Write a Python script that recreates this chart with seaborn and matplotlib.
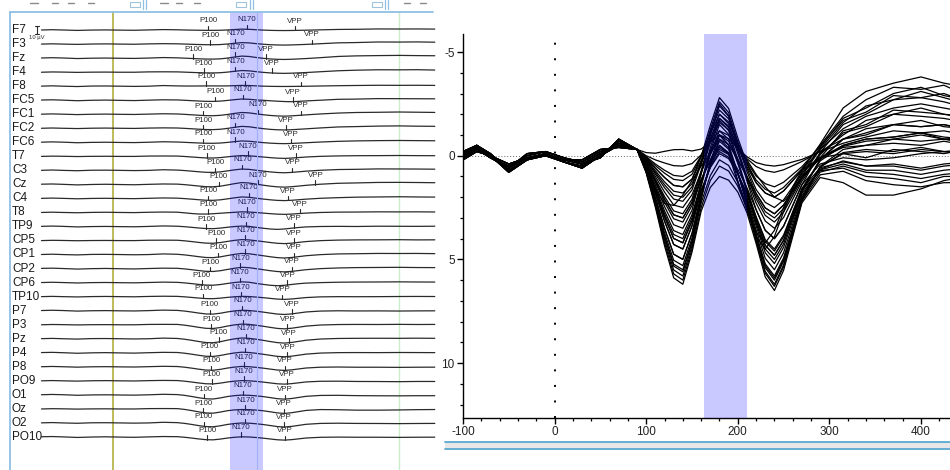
import numpy as np
import pandas as pd
import matplotlib
matplotlib.use("Agg")
import matplotlib.pyplot as plt
import seaborn as sns
from matplotlib.lines import Line2D
from matplotlib.patches import Rectangle
from matplotlib.ticker import MultipleLocator

sns.set_theme(style="white", context="paper")
plt.rcParams['font.family'] = ['Liberation Sans', 'DejaVu Sans']
plt.rcParams['axes.unicode_minus'] = False

# ---------------- data ----------------
times = [-100, -85, -70, -50, -30, -10, 10, 30, 50, 70,
         90, 100, 110, 120, 130, 140, 150, 160, 170, 180, 190, 200, 210, 220,
         230, 240, 250, 260, 270, 290, 315, 340, 370, 400, 425, 450]

channels = ["F7", "F3", "Fz", "F4", "F8", "FC5", "FC1", "FC2", "FC6", "T7",
            "C3", "Cz", "C4", "T8", "TP9", "CP5", "CP1", "CP2", "CP6", "TP10",
            "P7", "P3", "Pz", "P4", "P8", "PO9", "O1", "Oz", "O2", "PO10"]

# amplitudes in microvolts (positive plotted downward)
F7 = [0.0, -0.4, 0.0, 0.6, 0.1, -0.1, 0.2, 0.4, -0.1, -0.6,
      -0.3, 0.0, 0.2, 0.35, 0.48, 0.5, 0.38, -0.04, -0.65, -1.2, -0.98, -0.38, 0.14, 0.52,
      0.72, 0.8, 0.68, 0.48, 0.28, -0.22, -0.8, -1.0, -1.5, -1.4, -1.5, -1.3]
F3 = [0.1, -0.3, 0.1, 0.5, 0.0, -0.2, 0.1, 0.3, -0.2, -0.5,
      -0.3, 0.05, 0.4, 0.7, 0.95, 1.0, 0.75, 0.0, -1.05, -2.0, -1.63, -0.6, 0.3, 0.98,
      1.35, 1.5, 1.28, 0.9, 0.53, -0.45, -1.7, -2.1, -2.9, -2.8, -3.0, -2.6]
Fz = [-0.1, -0.5, -0.1, 0.7, 0.2, 0.0, 0.3, 0.5, 0.0, -0.7,
      -0.3, 0.13, 0.6, 1.05, 1.43, 1.5, 1.13, 0.04, -1.46, -2.8, -2.28, -0.86, 0.38, 1.3,
      1.8, 2.0, 1.7, 1.2, 0.7, -0.56, -2.3, -3.1, -3.5, -3.8, -3.5, -3.3]
F4 = [0.2, -0.2, 0.0, 0.4, 0.1, 0.0, 0.2, 0.2, -0.3, -0.4,
      -0.3, 0.08, 0.48, 0.84, 1.14, 1.2, 0.9, 0.04, -1.14, -2.2, -1.78, -0.63, 0.39, 1.17,
      1.62, 1.8, 1.53, 1.08, 0.63, -0.5, -1.9, -2.7, -3.3, -3.2, -3.4, -2.9]
F8 = [0.0, -0.4, 0.1, 0.6, -0.1, -0.2, 0.1, 0.4, 0.1, -0.8,
      -0.3, -0.15, -0.12, -0.21, -0.29, -0.3, -0.23, -0.32, -0.65, -1.0, -0.82, -0.35, 0.05, 0.33,
      0.45, 0.5, 0.43, 0.3, 0.18, -0.19, -0.6, -0.9, -1.2, -1.1, -1.2, -1.0]
FC5 = [-0.2, -0.5, 0.0, 0.8, 0.2, -0.1, 0.3, 0.6, 0.0, -0.5,
       -0.3, 0.17, 0.72, 1.26, 1.71, 1.8, 1.35, 0.4, -0.69, -1.6, -1.25, -0.28, 0.2, 0.9,
       1.5, 2.0, 2.2, 1.7, 1.1, 0.1, -1.2, -1.5, -2.2, -2.1, -2.0, -1.9]
FC1 = [0.0, -0.4, 0.0, 0.6, 0.1, -0.1, 0.2, 0.4, -0.1, -0.6,
       -0.3, 0.23, 0.88, 1.54, 2.09, 2.2, 1.65, 0.4, -1.11, -2.4, -1.9, -0.52, 0.76, 1.82,
       2.52, 2.8, 2.38, 1.68, 0.98, -0.32, -1.6, -2.4, -2.7, -3.1, -2.8, -2.5]
FC2 = [0.1, -0.3, 0.1, 0.5, 0.0, -0.2, 0.1, 0.3, -0.2, -0.5,
       -0.3, 0.2, 0.8, 1.4, 1.9, 2.0, 1.5, 0.28, -1.26, -2.6, -2.08, -0.67, 0.61, 1.63,
       2.25, 2.5, 2.13, 1.5, 0.88, -0.39, -1.8, -2.3, -3.0, -3.3, -2.9, -2.7]
FC6 = [-0.1, -0.5, -0.1, 0.7, 0.2, 0.0, 0.3, 0.5, 0.0, -0.7,
       -0.3, 0.13, 0.6, 1.05, 1.43, 1.5, 1.13, 0.24, -0.85, -1.8, -1.43, -0.41, 0.53, 1.3,
       1.8, 2.0, 1.7, 1.2, 0.7, -0.3, -1.3, -1.9, -2.3, -2.5, -2.3, -2.1]
T7 = [0.2, -0.2, 0.0, 0.4, 0.1, 0.0, 0.2, 0.2, -0.3, -0.4,
      -0.3, 0.28, 1.0, 1.75, 2.38, 2.5, 1.88, 0.8, -0.22, -1.0, -0.7, 0.15, 1.05, 1.95,
      2.7, 3.0, 2.55, 1.8, 1.05, 0.1, -0.5, -0.8, -0.9, -1.1, -0.9, -0.8]
C3 = [0.0, -0.4, 0.1, 0.6, -0.1, -0.2, 0.1, 0.4, 0.1, -0.8,
      -0.3, 0.35, 1.2, 2.1, 2.85, 3.0, 2.25, 0.84, -0.63, -1.8, -1.35, -0.11, 1.13, 2.28,
      3.15, 3.5, 2.98, 2.1, 1.23, -0.05, -1.1, -1.4, -2.0, -1.9, -1.8, -1.6]
Cz = [-0.2, -0.5, 0.0, 0.8, 0.2, -0.1, 0.3, 0.6, 0.0, -0.5,
      -0.3, 0.43, 1.4, 2.45, 3.33, 3.5, 2.63, 0.9, -0.97, -2.5, -1.93, -0.33, 1.22, 2.6,
      3.6, 4.0, 3.4, 2.4, 1.4, -0.16, -1.5, -2.0, -2.7, -2.8, -2.6, -2.3]
C4 = [0.0, -0.4, 0.0, 0.6, 0.1, -0.1, 0.2, 0.4, -0.1, -0.6,
      -0.3, 0.32, 1.12, 1.96, 2.66, 2.8, 2.1, 0.72, -0.78, -2.0, -1.54, -0.26, 0.98, 2.08,
      2.88, 3.2, 2.72, 1.92, 1.12, -0.12, -1.0, -1.7, -2.0, -2.3, -2.0, -1.8]
T8 = [0.1, -0.3, 0.1, 0.5, 0.0, -0.2, 0.1, 0.3, -0.2, -0.5,
      -0.3, 0.6, 1.6, 2.3, 2.4, 1.9, 1.2, 0.5, -0.12, -0.8, -0.54, 0.2, 1.0, 1.82,
      2.52, 2.8, 2.38, 1.68, 0.98, 0.12, -0.4, -0.5, -0.8, -0.7, -0.8, -0.6]
TP9 = [-0.1, -0.5, -0.1, 0.7, 0.2, 0.0, 0.3, 0.5, 0.0, -0.7,
       -0.3, 0.38, 1.28, 2.24, 3.04, 3.2, 2.4, 1.18, 0.18, -0.5, -0.1, 1.3, 2.6, 3.7,
       4.2, 3.6, 2.5, 1.5, 0.7, 0.1, -0.1, 0.1, -0.3, -0.2, -0.1, -0.3]
CP5 = [0.2, -0.2, 0.0, 0.4, 0.1, 0.0, 0.2, 0.2, -0.3, -0.4,
       -0.3, 0.5, 1.6, 2.8, 3.8, 4.0, 3.0, 1.36, -0.12, -1.2, -0.79, 0.36, 1.62, 2.93,
       4.05, 4.5, 3.83, 2.7, 1.58, 0.25, -0.5, -0.8, -0.9, -1.1, -0.8, -0.9]
CP1 = [0.0, -0.4, 0.1, 0.6, -0.1, -0.2, 0.1, 0.4, 0.1, -0.8,
       -0.3, 0.58, 1.8, 3.15, 4.28, 4.5, 3.38, 1.5, -0.22, -1.5, -1.03, 0.32, 1.77, 3.25,
       4.5, 5.0, 4.25, 3.0, 1.75, 0.2, -0.8, -1.1, -1.5, -1.4, -1.5, -1.2]
CP2 = [-0.2, -0.5, 0.0, 0.8, 0.2, -0.1, 0.3, 0.6, 0.0, -0.5,
       -0.3, 0.53, 1.68, 2.94, 3.99, 4.2, 3.15, 1.34, -0.39, -1.7, -1.21, 0.19, 1.66, 3.12,
       4.32, 4.8, 4.08, 2.88, 1.68, 0.16, -0.8, -1.3, -1.5, -1.7, -1.4, -1.3]
CP6 = [0.0, -0.4, 0.0, 0.6, 0.1, -0.1, 0.2, 0.4, -0.1, -0.6,
       -0.3, 0.47, 1.52, 2.66, 3.61, 3.8, 2.85, 1.32, -0.03, -1.0, -0.5, 1.2, 2.6, 3.9,
       4.5, 3.9, 2.7, 1.6, 0.8, 0.1, -0.45, -0.7, -0.8, -1.0, -0.8, -0.7]
TP10 = [0.1, -0.3, 0.1, 0.5, 0.0, -0.2, 0.1, 0.3, -0.2, -0.5,
        -0.3, 0.35, 1.2, 2.1, 2.85, 3.0, 2.25, 1.14, 0.27, -0.3, -0.06, 0.66, 1.55, 2.6,
        3.6, 4.0, 3.4, 2.4, 1.4, 0.4, 0.1, 0.2, 0.1, -0.1, -0.2, -0.1]
P7 = [-0.1, -0.5, -0.1, 0.7, 0.2, 0.0, 0.3, 0.5, 0.0, -0.7,
      -0.3, 0.65, 2.0, 3.5, 4.75, 5.0, 3.75, 1.9, 0.45, -0.5, -0.15, 0.87, 2.12, 3.58,
      4.95, 5.5, 4.68, 3.3, 1.93, 0.65, 0.25, 0.5, 0.4, 0.6, 0.4, 0.3]
P3 = [0.2, -0.2, 0.0, 0.4, 0.1, 0.0, 0.2, 0.2, -0.3, -0.4,
      -0.3, 0.73, 2.2, 3.85, 5.23, 5.5, 4.13, 2.04, 0.35, -0.8, -0.38, 0.84, 2.28, 3.9,
      5.4, 6.0, 5.1, 3.6, 2.1, 0.54, -0.15, -0.3, -0.2, -0.4, -0.2, -0.3]
Pz = [0.0, -0.4, 0.1, 0.6, -0.1, -0.2, 0.1, 0.4, 0.1, -0.8,
      -0.3, 0.77, 2.32, 4.06, 5.51, 5.8, 4.35, 2.12, 0.27, -1.0, -0.53, 0.81, 2.37, 4.1,
      5.67, 6.3, 5.36, 3.78, 2.21, 0.51, -0.3, -0.5, -0.6, -0.5, -0.7, -0.5]
P4 = [-0.2, -0.5, 0.0, 0.8, 0.2, -0.1, 0.3, 0.6, 0.0, -0.5,
      -0.3, 0.7, 2.12, 3.71, 5.04, 5.3, 3.98, 1.98, 0.38, -0.7, -0.31, 0.84, 2.21, 3.77,
      5.22, 5.8, 4.93, 3.48, 2.03, 0.54, -0.1, -0.2, -0.1, -0.3, -0.2, -0.1]
P8 = [0.0, -0.4, 0.0, 0.6, 0.1, -0.1, 0.2, 0.4, -0.1, -0.6,
      -0.3, 0.65, 2.0, 3.5, 4.75, 5.0, 3.75, 1.92, 0.51, -0.4, -0.08, 0.86, 2.02, 3.38,
      4.68, 5.2, 4.42, 3.12, 1.82, 0.68, 0.4, 0.7, 0.7, 0.9, 0.7, 0.6]
PO9 = [0.1, -0.3, 0.1, 0.5, 0.0, -0.2, 0.1, 0.3, -0.2, -0.5,
       -0.3, 0.58, 1.8, 3.15, 4.28, 4.5, 3.38, 1.76, 0.56, -0.2, 0.07, 0.87, 1.89, 3.12,
       4.32, 4.8, 4.08, 2.88, 1.68, 0.72, 0.6, 1.0, 1.1, 1.3, 1.0, 1.0]
O1 = [-0.1, -0.5, -0.1, 0.7, 0.2, 0.0, 0.3, 0.5, 0.0, -0.7,
      -0.3, 0.8, 2.4, 4.2, 5.7, 6.0, 4.5, 2.5, 1.2, 0.5, 0.74, 1.47, 2.56, 4.03,
      5.58, 6.2, 5.27, 3.72, 2.17, 0.92, 0.75, 1.2, 1.4, 1.5, 1.3, 1.3]
Oz = [0.2, -0.2, 0.0, 0.4, 0.1, 0.0, 0.2, 0.2, -0.3, -0.4,
      -0.3, 0.83, 2.48, 4.34, 5.89, 6.2, 4.65, 2.68, 1.53, 1.0, 1.18, 1.75, 2.75, 4.23,
      5.85, 6.5, 5.53, 3.9, 2.28, 1.05, 1.3, 1.9, 1.9, 1.6, 1.2, 1.0]
O2 = [0.0, -0.4, 0.1, 0.6, -0.1, -0.2, 0.1, 0.4, 0.1, -0.8,
      -0.3, 0.74, 2.24, 3.92, 5.32, 5.6, 4.2, 2.28, 0.96, 0.2, 0.47, 1.27, 2.39, 3.84,
      5.31, 5.9, 5.02, 3.54, 2.07, 0.79, 0.5, 0.8, 0.9, 1.1, 0.9, 0.8]
PO10 = [-0.2, -0.5, 0.0, 0.8, 0.2, -0.1, 0.3, 0.6, 0.0, -0.5,
        -0.3, 0.53, 1.68, 2.94, 3.99, 4.2, 3.15, 1.66, 0.57, -0.1, 0.14, 0.87, 1.82, 2.99,
        4.14, 4.6, 3.91, 2.76, 1.61, 0.58, 0.3, 0.5, 0.5, 0.7, 0.5, 0.4]

waves = [F7, F3, Fz, F4, F8, FC5, FC1, FC2, FC6, T7, C3, Cz, C4, T8, TP9,
         CP5, CP1, CP2, CP6, TP10, P7, P3, Pz, P4, P8, PO9, O1, Oz, O2, PO10]

# peak marker latencies (ms)
p100_lat = [133, 136, 112, 127, 130, 143, 126, 126, 126, 131, 143, 148, 133, 133, 130,
            144, 147, 136, 124, 126, 135, 137, 148, 135, 137, 138, 127, 126, 127, 132]
n170_lat = [187, 171, 171, 171, 185, 182, 203, 171, 171, 189, 181, 203, 190, 187, 186,
            185, 185, 178, 177, 179, 181, 182, 186, 185, 183, 183, 182, 185, 185, 179]
vpp_lat = [255, 278, 214, 222, 263, 252, 263, 242, 249, 256, 251, 283, 245, 262, 253,
           253, 253, 250, 244, 237, 250, 244, 246, 244, 241, 243, 241, 239, 239, 241]
peak_names = ["P100", "N170", "VPP"]

band = (163, 210)

rows = []
for ci, (ch, w) in enumerate(zip(channels, waves)):
    for t, v in zip(times, w):
        rows.append({"channel": ch, "row": ci, "time": t, "amp": v})
df = pd.DataFrame(rows)
STACK = 0.05  # channel-row units per microvolt in the stacked view
df["stack"] = df["row"] + STACK * df["amp"]

# ---------------- figure ----------------
W, H = 950, 470
fig = plt.figure(figsize=(W / 100, H / 100), dpi=100)
fig.patch.set_facecolor("white")


def fx(px):
    return px / W


def fy(py):
    return 1 - py / H


# ---- left: stacked channel view ----
axL = fig.add_axes([0, 0, 440 / W, 1])
axL.set_xlim(-158.0, 457.3)
axL.set_ylim(31.36, -2.138)
axL.axis("off")

sns.lineplot(data=df, x="time", y="stack", units="channel", estimator=None,
             color="#2a2a2a", lw=0.9, ax=axL, legend=False)

frame_top = fy(12)
axL.axvline(0, ymin=0, ymax=frame_top, color="#b9b44e", lw=1.3, zorder=1)
axL.axvline(400, ymin=0, ymax=frame_top, color="#c9ecc9", lw=1.0, zorder=1)

for ci, ch in enumerate(channels):
    axL.text(-141.3, ci, ch, ha="left", va="center", fontsize=8.5, color="#1a1a1a")
    w = waves[ci]
    for lat, nm in zip((p100_lat[ci], n170_lat[ci], vpp_lat[ci]), peak_names):
        y0 = ci + STACK * np.interp(lat, times, w)
        axL.plot([lat, lat], [y0, y0 - 0.32], color="#2a2a2a", lw=0.8)
        axL.text(lat, y0 - 0.42, nm, ha="center", va="bottom", fontsize=5.7,
                 color="#2a2a2a")

# scale bar 10 uV
xs = -106.3
axL.plot([xs, xs], [-0.25, 0.25], color="#2a2a2a", lw=0.8)
axL.plot([xs - 2.5, xs + 2.5], [-0.25, -0.25], color="#2a2a2a", lw=0.8)
axL.plot([xs - 2.5, xs + 2.5], [0.25, 0.25], color="#2a2a2a", lw=0.8)
axL.text(-117.5, 0.38, "10 µV", ha="left", va="top", fontsize=4.2, color="#2a2a2a")

axL.axvspan(band[0], band[1], ymin=0, ymax=frame_top, color=(0, 0, 1), alpha=0.21,
            lw=0, zorder=6)
axL.axvline(201, ymin=0, ymax=frame_top, color="#9fb4ee", lw=0.8, zorder=6)

# frame & toolbar hints
fig.add_artist(Line2D([fx(10), fx(433)], [fy(12), fy(12)], color="#8fc0e4", lw=1.3))
fig.add_artist(Line2D([fx(10), fx(10)], [fy(12), fy(470)], color="#8fc0e4", lw=1.3))
for x0, x1 in [(30, 38), (52, 58), (68, 74), (88, 94), (160, 168), (176, 182),
               (194, 200), (404, 410), (420, 426)]:
    fig.add_artist(Line2D([fx(x0), fx(x1)], [fy(3), fy(3)], color="#8a8a8a", lw=1.0))
for x0 in (143, 146, 250, 253, 385, 388):
    fig.add_artist(Line2D([fx(x0), fx(x0)], [fy(0), fy(9)], color="#8fc0e4", lw=0.9))
for x0 in (130, 236, 372):
    fig.add_artist(Rectangle((fx(x0), fy(7)), 10 / W, 5 / H, fill=False,
                             ec="#9ec4dc", lw=0.8))

# ---- right: butterfly plot ----
axR = fig.add_axes([463 / W, 52 / H, 487 / W, 384 / H])
sns.lineplot(data=df, x="time", y="amp", units="channel", estimator=None,
             color="black", lw=0.9, ax=axR, legend=False)
axR.set_xlim(-100, 431.7)
axR.set_ylim(12.65, -5.87)
axR.axvspan(band[0], band[1], color=(0, 0, 1), alpha=0.21, lw=0, zorder=6)
axR.axvline(0, color="black", ls=(0, (1, 7)), lw=1.4, zorder=1)
axR.axhline(0, color="#666666", ls=(0, (1, 2)), lw=0.7, zorder=0)

axR.set_facecolor("white")
for s in ("top", "right"):
    axR.spines[s].set_visible(False)
for s in ("left", "bottom"):
    axR.spines[s].set_color("black")
    axR.spines[s].set_linewidth(1.0)
axR.set_xticks([-100, 0, 100, 200, 300, 400])
axR.set_yticks([-5, 0, 5, 10])
axR.xaxis.set_minor_locator(MultipleLocator(20))
axR.yaxis.set_minor_locator(MultipleLocator(1))
axR.tick_params(which="major", direction="out", length=4, width=1, colors="black",
                labelsize=8.5, labelcolor="#222222", pad=2,
                bottom=True, left=True)
axR.tick_params(which="minor", direction="out", length=2.5, width=0.9, colors="black",
                bottom=True, left=True)
axR.set_xlabel("")
axR.set_ylabel("")

# scrollbar under the butterfly plot
fig.add_artist(Rectangle((fx(445), fy(449)), 505 / W, 7 / H, color="#e7e7e7", lw=0))
fig.add_artist(Line2D([fx(445), fx(950)], [fy(442), fy(442)], color="#5aa8d0", lw=1.3))
fig.add_artist(Line2D([fx(445), fx(950)], [fy(449), fy(449)], color="#5aa8d0", lw=1.3))

fig.savefig("out.png", dpi=100, facecolor="white")
